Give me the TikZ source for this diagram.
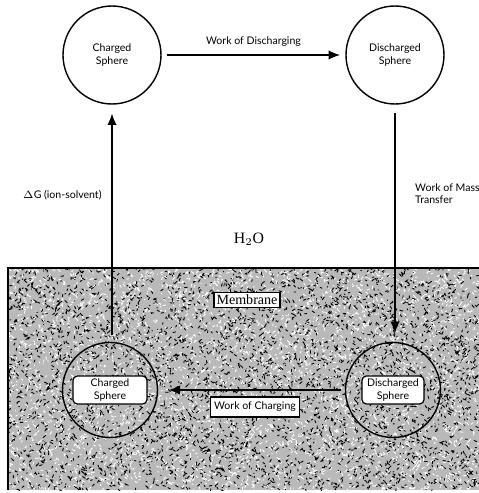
\documentclass[tikz,border=0pt]{standalone}
\usepackage{fontspec}
\setmainfont{Liberation Serif}
\newfontfamily\labelfont{Lato}
\usepackage{tikz}
\usetikzlibrary{arrows.meta,positioning}

\begin{document}
\begin{tikzpicture}[
  sphere/.style={draw,circle,line width=0.8pt,minimum size=1.96cm,inner sep=0pt,
    font=\labelfont\fontsize{6}{7}\selectfont,align=center},
  tag/.style={draw,fill=white,rounded corners=2.5pt,line width=0.7pt,inner sep=1.5pt,
    minimum height=0.56cm,font=\labelfont\fontsize{6}{7}\selectfont,align=center},
  step lbl/.style={font=\labelfont\fontsize{6}{7}\selectfont,align=left},
  flow/.style={line width=0.8pt,-{Latex[length=2.3mm,width=1.9mm]}}
]
\useasboundingbox (0,0) rectangle (9.58,9.86);
% membrane layer
\fill[gray!55] (0.16,0.06) rectangle (9.58,4.50);
\begin{scope}
\clip (0.16,0.06) rectangle (9.58,4.50);
\pgfmathsetseed{11}
\draw[black,line width=0.5pt,line cap=round]
  \foreach \i in {1,...,4200}{({4.87+4.72*rand},{2.28+2.22*rand}) -- ++({0.055*rand},{0.055*rand})};
\draw[white,line width=0.5pt,line cap=round]
  \foreach \i in {1,...,3800}{({4.87+4.72*rand},{2.28+2.22*rand}) -- ++({0.055*rand},{0.055*rand})};
\end{scope}
\draw[line width=0.9pt] (9.58,4.50) -- (0.16,4.50) -- (0.16,0.06);

% spheres in water
\node[sphere] (cs) at (2.24,8.76) {Charged\\Sphere};
\node[sphere] (ds) at (7.90,8.76) {Discharged\\Sphere};
% spheres in the membrane
\node[sphere,minimum size=1.9cm] (mcs) at (2.20,2.06) {};
\node[sphere,minimum size=1.9cm] (mds) at (7.86,2.06) {};
\node[tag,minimum width=1.48cm] (mcst) at (mcs) {Charged\\Sphere};
\node[tag,minimum width=1.24cm] (mdst) at (mds) {Discharged\\Sphere};

\node[font=\small] (water) at (4.98,5.08) {H$_2$O};
\node[draw,fill=white,line width=0.7pt,inner sep=1.5pt,font=\footnotesize] (memb) at (4.94,3.86) {Membrane};

% cycle
\draw[flow,shorten <=3pt,shorten >=3pt] (cs) -- node[above=1pt,step lbl] (wd) {Work of Discharging} (ds);
\draw[flow,shorten <=5pt,shorten >=5pt] (ds.south) -- (ds.south |- mds.north);
\node[step lbl,anchor=west] (wmt) at (8.18,5.98) {Work of Mass\\Transfer};
\draw[flow,shorten <=2pt,shorten >=6pt] (mds) -- (mcs);
\node[tag,rounded corners=0pt,minimum height=0.4cm,inner sep=2pt] (wc) at (5.1,1.72) {Work of Charging};
\draw[flow,shorten <=4pt,shorten >=5pt] (cs.south |- mcs.north) -- (cs.south);
\node[step lbl,anchor=west] (dg) at (0.34,5.96) {$\Delta$G (ion-solvent)};
\end{tikzpicture}
\end{document}
